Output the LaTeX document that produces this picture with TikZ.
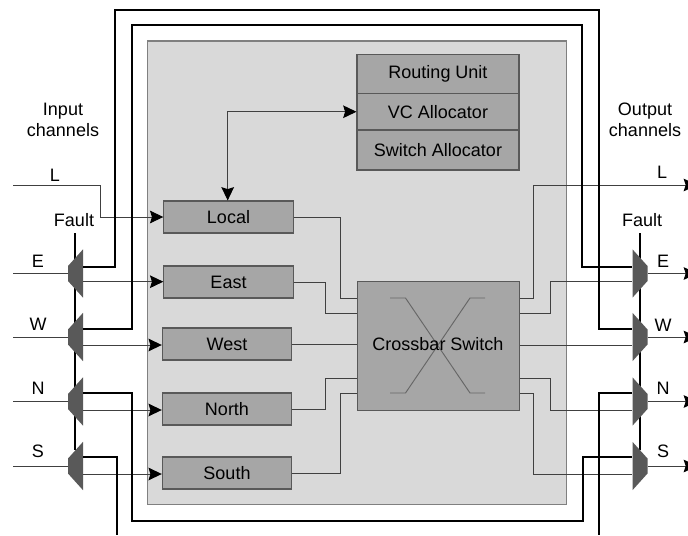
\documentclass[tikz,border=0pt]{standalone}
\usepackage{fontspec}
\setmainfont{Liberation Sans}
\usetikzlibrary{arrows.meta,shapes.geometric}
\definecolor{panelfill}{HTML}{D9D9D9}
\definecolor{unitfill}{HTML}{A6A6A6}
\definecolor{muxfill}{HTML}{595959}
\tikzset{
    panel/.style={
    rectangle,draw=gray,fill=panelfill,line width=0.8pt,inner sep=0pt
    },
    unit/.style={
    rectangle,draw=black!65,fill=unitfill,line width=0.8pt,inner sep=0pt,
    minimum width=97pt,minimum height=24pt
    },
    alloc/.style={
    unit,minimum width=121.5pt
    },
    muxin/.style={
    trapezium,fill=muxfill,inner sep=5.625pt,
    trapezium angle=42,shape border rotate=90
    },
    muxout/.style={
    muxin,shape border rotate=270
    },
    wire/.style={
    draw=black!75,line width=0.7pt
    },
    bus/.style={
    draw=black,line width=1.7pt
    },
    tipped/.style={
    -{Stealth[length=10pt,width=9.5pt,inset=1.5pt,black]}
    },
    lbl/.style={
    inner sep=0pt,font=\fontsize{13.5}{16}\selectfont,align=center
    },
}

\begin{document}
\begin{tikzpicture}[x=0.75pt,y=-0.75pt,every node/.append style={lbl}]
   \useasboundingbox (0,0) rectangle (688,535);

   \node[panel,minimum width=314.25pt,minimum height=347.6pt] (router) at (357.25,272.75) {};

   % fault lines sit under the muxes
   \coordinate (faultin) at (75,233);
   \coordinate (faultout) at (640,233);
   \coordinate (faultinend) at (75,450);
   \coordinate (faultoutend) at (640,450);
   \draw[bus,line width=1.4pt] (faultin) -- (faultinend);
   \draw[wire,line width=1pt,draw=black] (faultout) -- (faultoutend);

   \foreach \nm/\ypos/\ybus/\ywire in {E/273.5/267/281.7,W/337/329/345,N/401.5/393/410,S/466/457/474}{
      \node[muxin] (mi\nm) at (75.5,\ypos) {};
      \node[muxout] (mo\nm) at (640,\ypos) {};
      \coordinate (src\nm) at (13,\ypos);
      \coordinate (dst\nm) at (697,\ypos);
      \coordinate (bi\nm) at (83,\ybus);
      \coordinate (ti\nm) at (83,\ywire);
      \coordinate (bo\nm) at (632,\ybus);
      \coordinate (to\nm) at (632,\ywire);
      \draw[wire] (src\nm) -- (mi\nm);
      \draw[wire,tipped] (mo\nm) -- (dst\nm);
   }

   \node[unit] (local) at (228.5,217) {Local};
   \node[unit] (east) at (228.5,282) {East};
   \node[unit] (west) at (227,344) {West};
   \node[unit] (north) at (227,409) {North};
   \node[unit] (south) at (227,473) {South};

   \node[alloc,minimum height=29.25pt] (routing) at (438,74) {Routing Unit};
   \node[alloc,minimum height=27.4pt] (vc) at (438,111.75) {VC Allocator};
   \node[alloc,minimum height=30pt] (switch) at (438,150) {Switch Allocator};

   \node[alloc,minimum height=96.4pt] (xbar) at (438.5,346) {};
   \coordinate (xa) at (390,298);
   \coordinate (xb) at (405.5,298);
   \coordinate (xc) at (470,393);
   \coordinate (xd) at (485,393);
   \coordinate (xe) at (390,393);
   \coordinate (xf) at (405.5,393);
   \coordinate (xg) at (470,298);
   \coordinate (xh) at (485,298);
   \draw[wire,draw=black!60] (xa) -- (xb) -- (xc) -- (xd);
   \draw[wire,draw=black!60] (xe) -- (xf) -- (xg) -- (xh);
   \node at (438,344) {Crossbar Switch};

   % input side
   \coordinate (srcL) at (13,185);
   \draw[wire,tipped] (srcL) -- (100,185) |- (local.west);
   \draw[wire,tipped] (tiE) -- (tiE -| east.west);
   \draw[wire,tipped] (tiW) -- (tiW -| west.west);
   \draw[wire,tipped] (tiN) -- (tiN -| north.west);
   \draw[wire,tipped] (tiS) -- (tiS -| south.west);

   \draw[wire,{Stealth[length=10pt,width=9.5pt,inset=1.5pt,black]}-{Stealth[length=10pt,width=9.5pt,inset=1.5pt,black]}]
      (local.north) ++(-0.8,0) |- (vc.west);

   % into the crossbar
   \coordinate (xl1) at (xbar.west |- 0,298);
   \coordinate (xl2) at (xbar.west |- 0,313);
   \coordinate (xl4) at (xbar.west |- 0,378);
   \coordinate (xl5) at (xbar.west |- 0,393);
   \draw[wire] (local.east) -| (340.7,298) -- (xl1);
   \draw[wire] (east.east) -| (325.5,313) -- (xl2);
   \draw[wire] (west.east) -- (xbar.west |- west.east);
   \draw[wire] (north.east) -| (325.5,378) -- (xl4);
   \draw[wire] (south.east) -| (340.7,393) -- (xl5);

   % out of the crossbar
   \coordinate (xr1) at (xbar.east |- 0,298);
   \coordinate (xr2) at (xbar.east |- 0,313);
   \coordinate (xr3) at (xbar.east |- 0,345);
   \coordinate (xr4) at (xbar.east |- 0,378);
   \coordinate (xr5) at (xbar.east |- 0,393);
   \coordinate (dstL) at (697,185);
   \draw[wire,tipped] (xr1) -| (533,185) -- (dstL);
   \draw[wire] (xr2) -| (550,281.7) -- (toE);
   \draw[wire] (xr3) -- (toW);
   \draw[wire] (xr4) -| (550,410) -- (toN);
   \draw[wire] (xr5) -| (533,474) -- (toS);

   % fault buses
   \draw[bus] (biE) -| (115,10) -| (599,329) -- (boW);
   \draw[bus] (biW) -| (132,25) -| (582,267) -- (boE);
   \draw[bus] (biN) -| (132,521) -| (583,457) -- (boS);
   \coordinate (busS) at (117,535);
   \coordinate (busN) at (599,535);
   \draw[bus] (biS) -| (busS);
   \draw[bus] (boN) -| (busN);

   \node (inch) at (63,120) {Input\\channels};
   \node (outch) at (645,120) {Output\\channels};
   \node (faultl) at (74,220) {Fault};
   \node (faultr) at (642,220) {Fault};
   \node (inL) at (55,175) {L};
   \node (inE) at (38,261) {E};
   \node (inW) at (38,324) {W};
   \node (inN) at (38,388) {N};
   \node (inS) at (38,451) {S};
   \node (outL) at (662,172) {L};
   \node (outE) at (663,261) {E};
   \node (outW) at (663,325) {W};
   \node (outN) at (663,388) {N};
   \node (outS) at (663,451) {S};
\end{tikzpicture}
\end{document}
